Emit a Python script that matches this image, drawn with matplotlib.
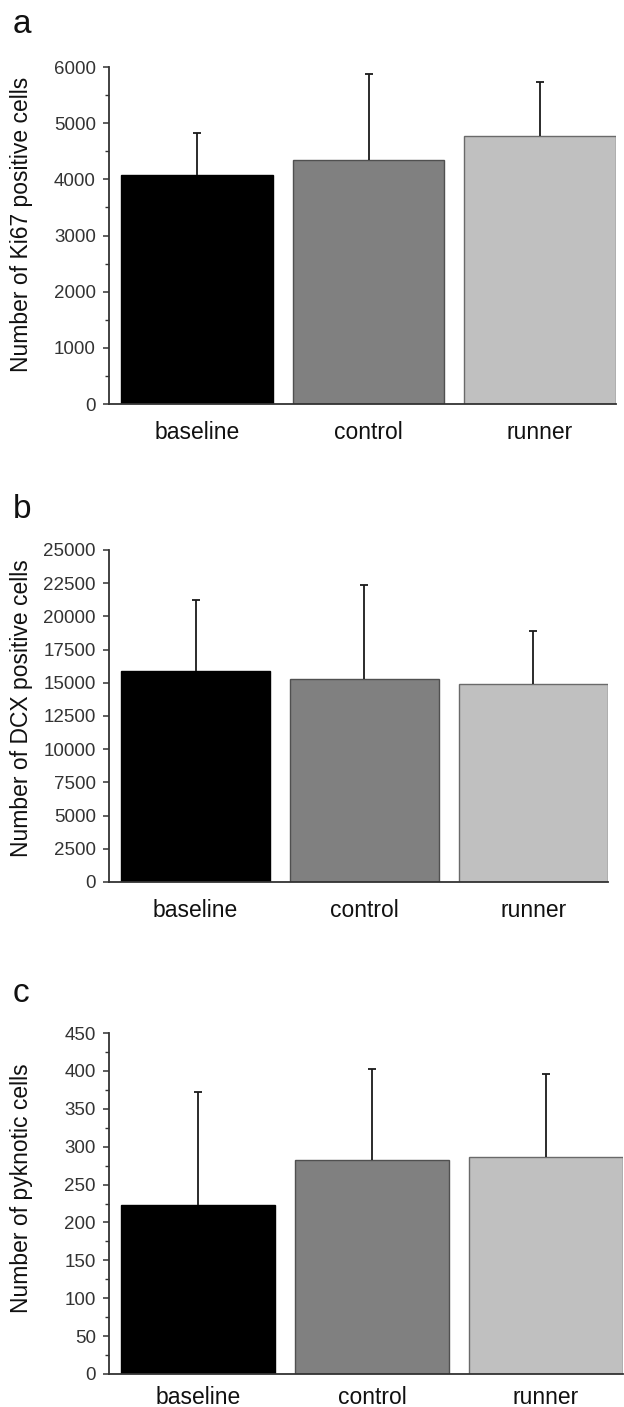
"""
Cell counts per group (Ki67, DCX, pyknotic) as three stacked bar panels.
"""

import matplotlib
matplotlib.use("Agg")
import matplotlib.pyplot as plt
from matplotlib.ticker import MultipleLocator

# ── DATA ──────────────────────────────────────────────────────────────────────
groups = ["baseline", "control", "runner"]

ki67_mean = [4070, 4340, 4775]
ki67_err  = [750, 1530, 955]

dcx_mean = [15900, 15300, 14900]
dcx_err  = [5300, 7100, 4000]

pyk_mean = [223, 282, 286]
pyk_err  = [149, 120, 110]

# ── STYLE ─────────────────────────────────────────────────────────────────────
bar_colors = ["#000000", "#808080", "#c0c0c0"]
edge_colors = ["#000000", "#505050", "#6a6a6a"]

plt.rcParams["font.family"] = ["Liberation Sans", "DejaVu Sans"]

W, H = 624, 1407
fig = plt.figure(figsize=(W / 100, H / 100), dpi=100)

# panel geometry in pixels: (left, right, top, bottom)
panels = [
    dict(letter="a", mean=ki67_mean, err=ki67_err, ymax=6000, major=1000, minor=500,
         ylabel="Number of Ki67 positive cells", box=(109, 616, 67, 404),
         letter_y=33, label_y=0.534, xpad=12.5),
    dict(letter="b", mean=dcx_mean, err=dcx_err, ymax=25000, major=2500, minor=None,
         ylabel="Number of DCX positive cells", box=(109, 608, 550, 882),
         letter_y=518, label_y=0.525, xpad=12.5),
    dict(letter="c", mean=pyk_mean, err=pyk_err, ymax=450, major=50, minor=25,
         ylabel="Number of pyknotic cells", box=(109, 623, 1033, 1374),
         letter_y=1002, label_y=0.545, xpad=8.5),
]

x = list(range(len(groups)))
bar_w = 0.885

for p in panels:
    l, r, t, b = p["box"]
    ax = fig.add_axes([l / W, 1 - b / H, (r - l) / W, (b - t) / H])

    ax.bar(x, p["mean"], width=bar_w, color=bar_colors, edgecolor=edge_colors,
           linewidth=1.0, zorder=2)
    _, caps, _ = ax.errorbar(x, p["mean"], yerr=[[0] * len(x), p["err"]], fmt="none",
                             ecolor="#1a1a1a", elinewidth=1.3, capsize=2.6,
                             capthick=1.3, zorder=3)
    caps[0].set_visible(False)  # only the upper cap

    ax.set_xlim(-bar_w / 2 - 0.07, 2 + bar_w / 2)
    ax.set_ylim(0, p["ymax"])
    ax.yaxis.set_major_locator(MultipleLocator(p["major"]))
    if p["minor"]:
        ax.yaxis.set_minor_locator(MultipleLocator(p["minor"]))

    ax.set_xticks(x)
    ax.set_xticklabels(groups)

    for side in ("top", "right"):
        ax.spines[side].set_visible(False)
    for side in ("left", "bottom"):
        ax.spines[side].set_color("#333333")
        ax.spines[side].set_linewidth(1.3)

    ax.tick_params(axis="x", length=0, pad=p["xpad"], labelsize=16.5,
                   labelcolor="#111111")
    ax.tick_params(axis="y", which="major", direction="out", length=4.5, width=1.1,
                   color="#333333", pad=5, labelsize=13.5, labelcolor="#333333")
    ax.tick_params(axis="y", which="minor", direction="out", length=2.8, width=1.0,
                   color="#333333")

    ax.set_ylabel(p["ylabel"], fontsize=16.5, color="#111111")
    ax.yaxis.set_label_coords((33 - l) / (r - l), p["label_y"])

    fig.text(13 / W, 1 - p["letter_y"] / H, p["letter"], fontsize=24,
             ha="left", va="baseline", color="#111111")

fig.savefig("out.png", dpi=100)
